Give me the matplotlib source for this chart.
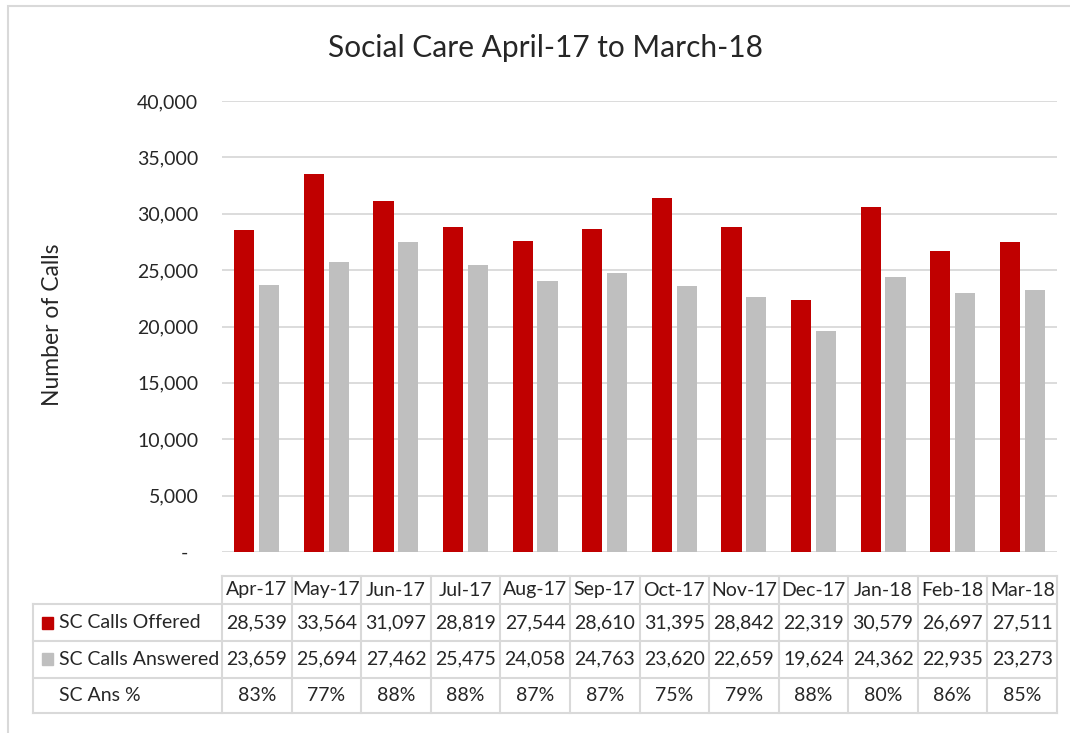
import matplotlib
matplotlib.use("Agg")
import numpy as np
import matplotlib.pyplot as plt
from matplotlib.patches import Rectangle
from matplotlib.ticker import FuncFormatter

plt.rcParams['font.family'] = ['Lato', 'DejaVu Sans']

months = ["Apr-17", "May-17", "Jun-17", "Jul-17", "Aug-17", "Sep-17",
          "Oct-17", "Nov-17", "Dec-17", "Jan-18", "Feb-18", "Mar-18"]
offered = [28539, 33564, 31097, 28819, 27544, 28610,
           31395, 28842, 22319, 30579, 26697, 27511]
answered = [23659, 25694, 27462, 25475, 24058, 24763,
            23620, 22659, 19624, 24362, 22935, 23273]
ans_pct = [83, 77, 88, 88, 87, 87, 75, 79, 88, 80, 86, 85]

RED = "#C00000"
GREY = "#BFBFBF"
LINE = "#D9D9D9"
TXT = "#262626"

W, H = 1070, 733
fig = plt.figure(figsize=(W / 100, H / 100), dpi=100)

# plot area (pixel layout)
px_l, px_r, px_t, px_b = 222, 1057, 101, 552
ax = fig.add_axes([px_l / W, (H - px_b) / H, (px_r - px_l) / W, (px_b - px_t) / H])

x = np.arange(len(months))
ax.bar(x - 0.178, offered, 0.29, color=RED, zorder=2)
ax.bar(x + 0.178, answered, 0.29, color=GREY, zorder=2)

ax.set_xlim(-0.5, len(months) - 0.5)
ax.set_ylim(0, 40000)
ax.set_yticks(range(0, 40001, 5000))
ax.yaxis.set_major_formatter(FuncFormatter(lambda v, p: f"{v:,.0f}" if v else "-  "))
ax.grid(axis="y", color=LINE, lw=1.3, zorder=0)
ax.set_xticks([])
ax.tick_params(axis="y", length=0, pad=17, labelsize=14, labelcolor=TXT)
for s in ax.spines.values():
    s.set_visible(False)

fig.text(545 / W, 1 - 48 / H, "Social Care April-17 to March-18",
         ha="center", va="center", fontsize=21.5, color=TXT)
fig.text(53 / W, 1 - 325 / H, "Number of Calls", rotation=90,
         ha="center", va="center", fontsize=16.5, color=TXT)

# data table under the chart
col_w = (px_r - px_l) / len(months)
tab_l = 33
left_x = -0.5 - (px_l - tab_l) / col_w
rows = [576, 604, 641, 677.5, 713]
tab = fig.add_axes([tab_l / W, (H - rows[-1]) / H, (px_r - tab_l) / W, (rows[-1] - rows[0]) / H])
tab.set_xlim(left_x, len(months) - 0.5)
tab.set_ylim(rows[-1], rows[0])
tab.axis("off")

edges = np.arange(len(months) + 1) - 0.5
lk = dict(color=LINE, lw=1.5, clip_on=False)
tab.plot([edges[0], edges[-1]], [rows[0], rows[0]], **lk)
for r in rows[1:]:
    tab.plot([left_x, edges[-1]], [r, r], **lk)
for e in edges:
    tab.plot([e, e], [rows[0], rows[-1]], **lk)
tab.plot([left_x, left_x], [rows[1], rows[-1]], **lk)

mid = [(rows[i] + rows[i + 1]) / 2 for i in range(4)]
tk = dict(ha="center", va="center", fontsize=14, color=TXT)
for i, m in enumerate(months):
    tab.text(i, mid[0], m, **tk)
    tab.text(i, mid[1], f"{offered[i]:,}", **tk)
    tab.text(i, mid[2], f"{answered[i]:,}", **tk)
    tab.text(i, mid[3], f"{ans_pct[i]}%", **tk)

label_x = left_x + (59 - tab_l) / col_w
key_x = left_x + (42 - tab_l) / col_w
key_w = 11 / col_w
names = ["SC Calls Offered", "SC Calls Answered", "SC Ans %"]
keys = [RED, GREY, None]
for j in range(3):
    y = mid[j + 1]
    if keys[j]:
        tab.add_patch(Rectangle((key_x, y - 6), key_w, 12, color=keys[j], clip_on=False))
    tab.text(label_x, y, names[j], ha="left", va="center", fontsize=14, color=TXT)

# outer chart border (only top and left edges fall inside the image)
fig.patches.append(Rectangle((8 / W, -0.01), 1.0, (H - 6) / H + 0.01,
                             transform=fig.transFigure, fill=False, ec=LINE, lw=1.5))

fig.savefig("out.png", dpi=100)
